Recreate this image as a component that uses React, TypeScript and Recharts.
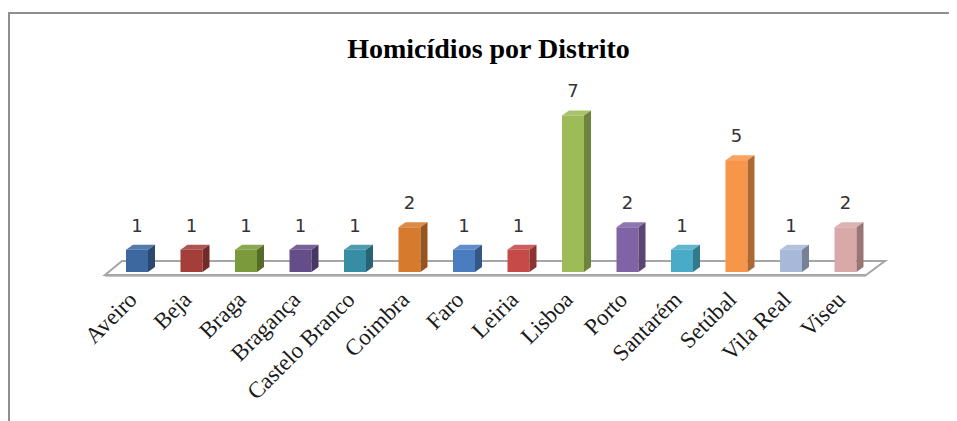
import React from 'react';
import { BarChart, Bar, XAxis, YAxis, LabelList, ReferenceArea } from 'recharts';

const categories = ['Aveiro', 'Beja', 'Braga', 'Bragança', 'Castelo Branco', 'Coimbra', 'Faro', 'Leiria', 'Lisboa', 'Porto', 'Santarém', 'Setúbal', 'Vila Real', 'Viseu'];
const homicides = [1, 1, 1, 1, 1, 2, 1, 1, 7, 2, 1, 5, 1, 2];
const barColors = ['#3D679F', '#A33E3B', '#7A9A3B', '#654D8A', '#378DA3', '#D67A2E', '#4A7DC0', '#C64A48', '#9DBB58', '#8063A5', '#4AABC8', '#F7964A', '#A8B8D8', '#D9A8A8'];
const title = 'Homicídios por Distrito';

const data = categories.map((name, i) => ({ name, value: homicides[i] }));

function shade(hex: string, f: number) {
  const n = parseInt(hex.slice(1), 16);
  let r = (n >> 16) & 255, g = (n >> 8) & 255, b = n & 255;
  if (f < 0) {
    r = Math.round(r * (1 + f)); g = Math.round(g * (1 + f)); b = Math.round(b * (1 + f));
  } else {
    r = Math.round(r + (255 - r) * f); g = Math.round(g + (255 - g) * f); b = Math.round(b + (255 - b) * f);
  }
  return `rgb(${r},${g},${b})`;
}

const DX = 7;
const DY = 5;

const Box3D = (props: any) => {
  const { x, y, width, height, index } = props;
  const c = barColors[index % barColors.length];
  const top = `${x},${y} ${x + DX},${y - DY} ${x + width + DX},${y - DY} ${x + width},${y}`;
  const side = `${x + width},${y} ${x + width + DX},${y - DY} ${x + width + DX},${y + height - DY} ${x + width},${y + height}`;
  return (
    <g>
      <rect x={x} y={y} width={width} height={height} fill={c} />
      <polygon points={top} fill={shade(c, 0.12)} />
      <polygon points={side} fill={shade(c, -0.3)} />
    </g>
  );
};

const Floor = (props: any) => {
  const { x, y, width, height } = props;
  const b = y + height;
  const pts = `${x - 5},${b + 3} ${x + width - 7},${b + 3} ${x + width + 12},${b - 11} ${x + 12},${b - 11}`;
  return (
    <g>
      <polygon points={pts} fill="#ffffff" stroke="#a6a6a6" strokeWidth={2} />
      <line x1={x - 5} y1={b + 4.5} x2={x + width - 7} y2={b + 4.5} stroke="#c8c8c8" strokeWidth={1} />
    </g>
  );
};

const Tick = (props: any) => {
  const { x, y, payload } = props;
  const ax = x + 1;
  const ay = y + 29;
  return (
    <text
      x={ax}
      y={ay}
      transform={`rotate(-45, ${ax}, ${ay})`}
      textAnchor="end"
      fontFamily="'Liberation Serif', serif"
      fontSize={23}
      fill="#1a1a1a"
    >
      {payload.value}
    </text>
  );
};

export default function App() {
  return (
    <div style={{ position: 'relative', width: 949, height: 413, overflow: 'hidden' }}>
      <div
        style={{
          position: 'absolute',
          left: 0,
          top: 4,
          width: 1200,
          height: 1200,
          borderLeft: '2px solid #8f8f8f',
          borderTop: '2px solid #8f8f8f',
          boxSizing: 'border-box',
        }}
      />
      <div
        style={{
          position: 'absolute',
          left: 480.5,
          top: 26.5,
          transform: 'translateX(-50%)',
          whiteSpace: 'nowrap',
          fontFamily: "'Liberation Serif', serif",
          fontWeight: 'bold',
          fontSize: 28,
          lineHeight: '28px',
          color: '#000',
        }}
      >
        {title}
      </div>
      <div style={{ position: 'absolute', left: 0, top: 0 }}>
        <BarChart width={949} height={413} data={data} margin={{ top: 85, right: 84, bottom: 9, left: 102 }}>
          <XAxis
            dataKey="name"
            height={140}
            interval={0}
            tickLine={false}
            axisLine={false}
            tickSize={0}
            tickMargin={0}
            tick={<Tick />}
          />
          <YAxis hide domain={[0, 8]} />
          <ReferenceArea x1={categories[0]} x2={categories[categories.length - 1]} shape={<Floor />} ifOverflow="visible" />
          <Bar dataKey="value" barSize={22} shape={<Box3D />} isAnimationActive={false}>
            <LabelList
              dataKey="value"
              position="top"
              offset={18}
              fill="#333333"
              fontSize={18}
              fontFamily="'DejaVu Sans', sans-serif"
            />
          </Bar>
        </BarChart>
      </div>
    </div>
  );
}
